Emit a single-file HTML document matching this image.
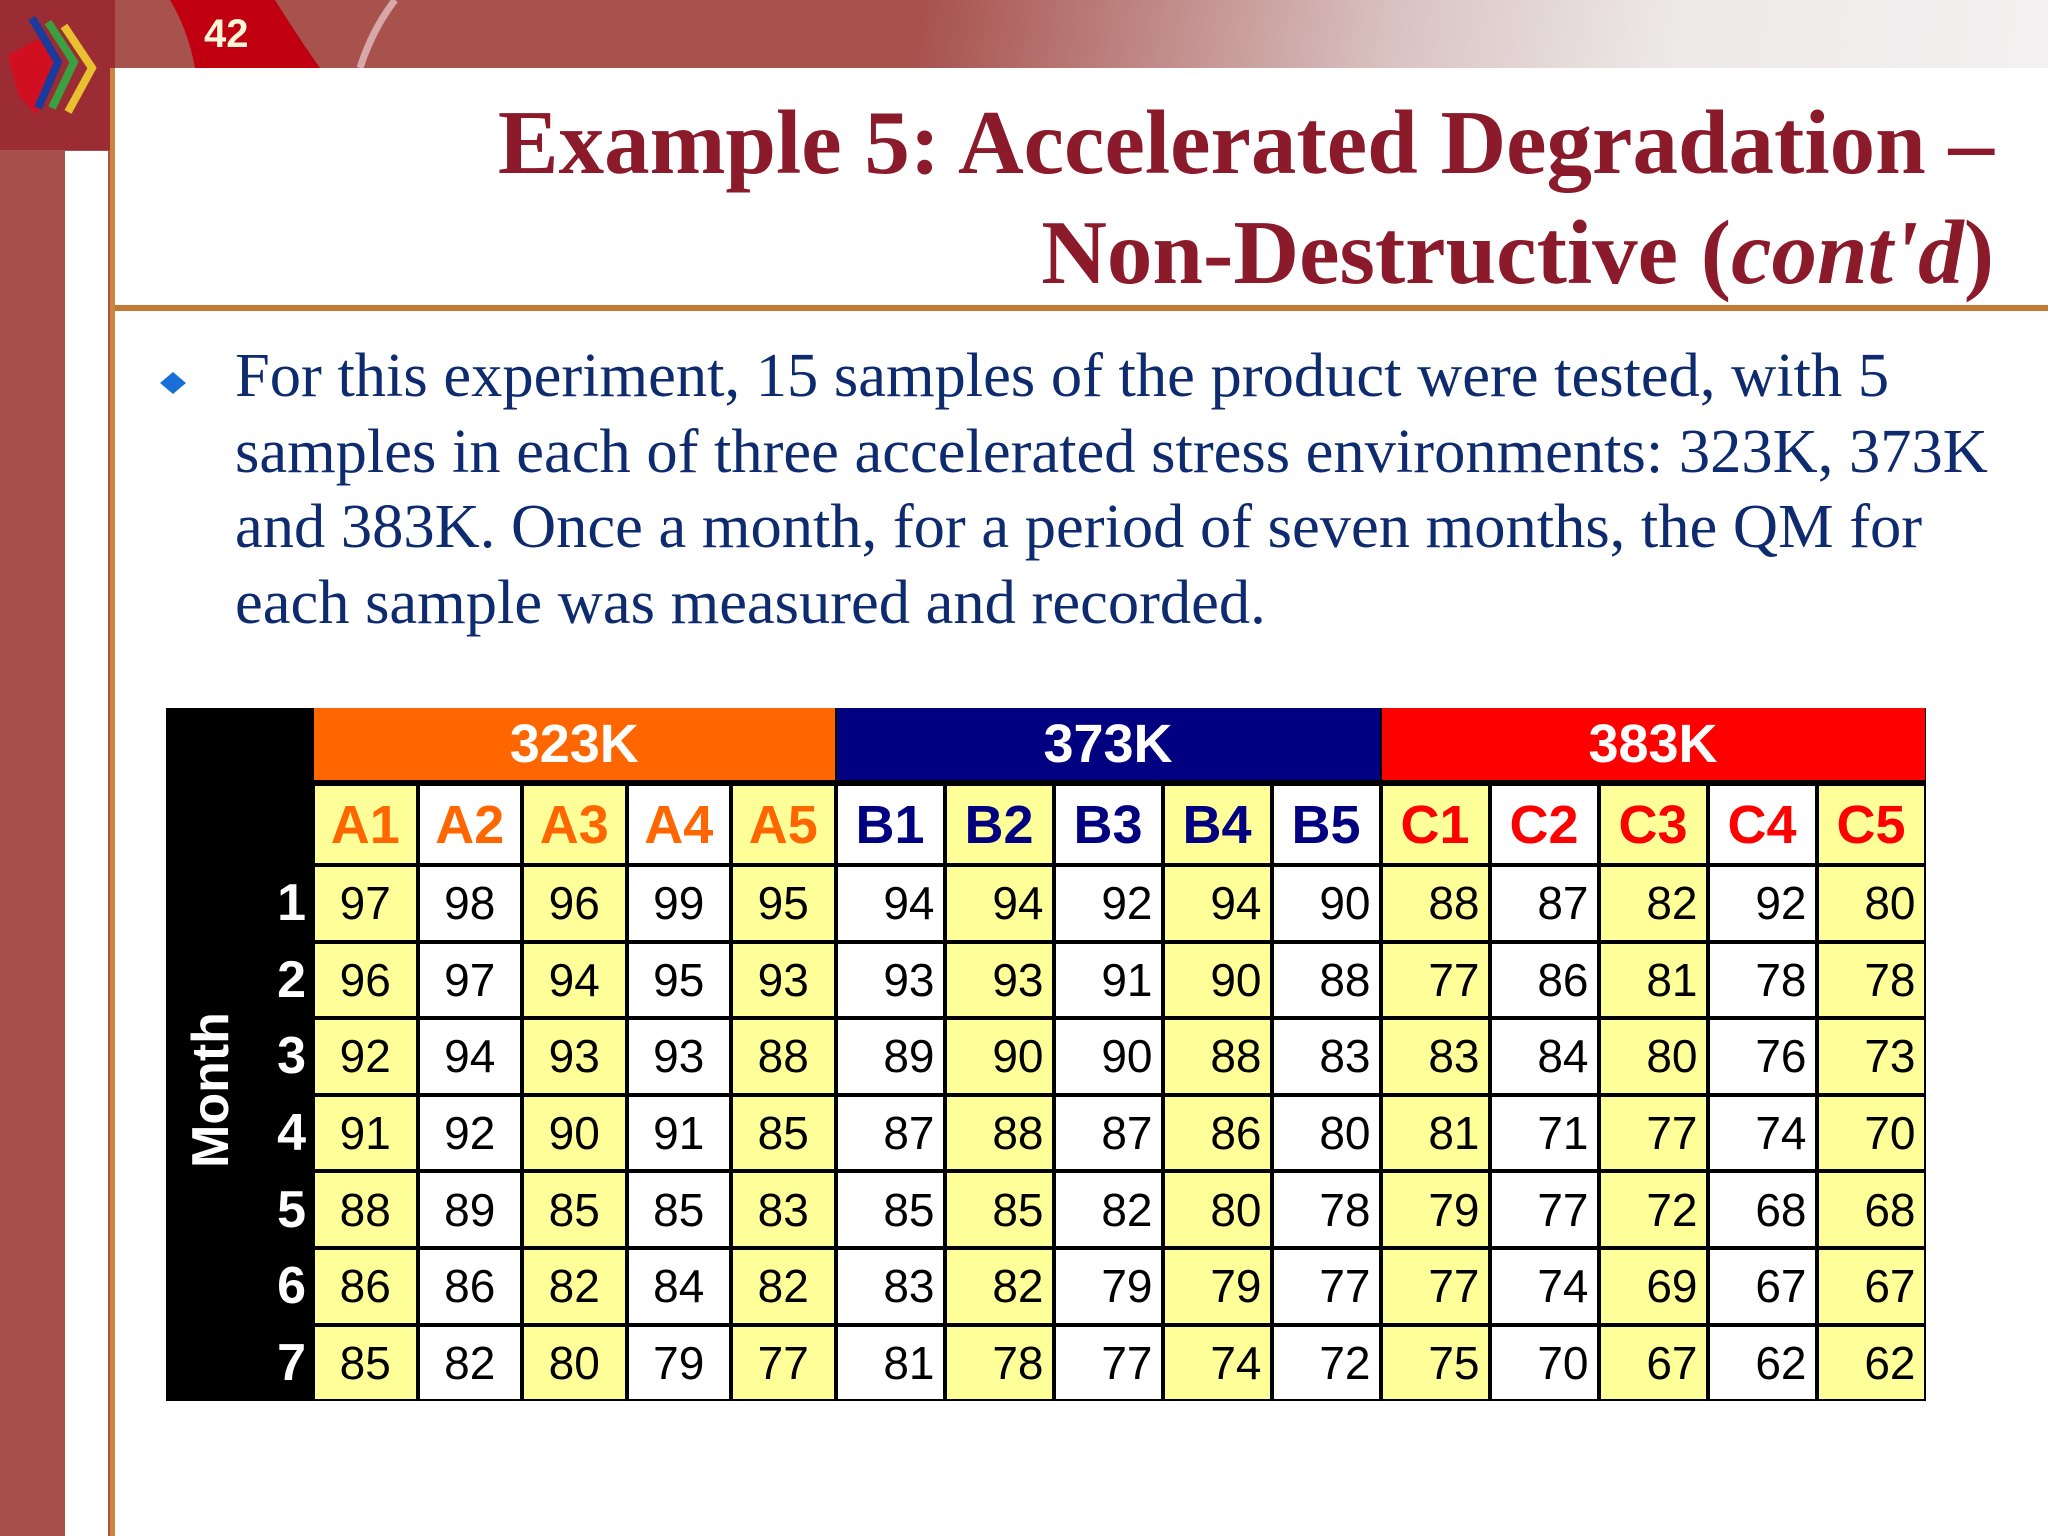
<!DOCTYPE html>
<html><head><meta charset="utf-8">
<style>
html,body{margin:0;padding:0}
body{width:2048px;height:1536px;position:relative;overflow:hidden;background:#fff;font-family:"Liberation Serif",serif}
.abs{position:absolute}
#tbl{position:absolute;left:166px;top:708px;width:1760px;height:693px;background:#000}
.cell{position:absolute;box-sizing:border-box;font-family:"Liberation Sans",sans-serif;display:flex;align-items:center}
</style></head>
<body>
<div class="abs" style="left:0;top:0;width:2048px;height:68px;background:linear-gradient(100deg,#a8524e 0%,#a8524e 45%,#d9c3c2 68%,#eeeaea 82%,#f2f0f0 100%)"></div>
<div class="abs" style="left:0;top:0;width:115px;height:1536px;background:#a8504c"></div>
<div class="abs" style="left:0;top:0;width:115px;height:150px;background:#9b2c33"></div>
<div class="abs" style="left:65px;top:151px;width:43px;height:1385px;background:#fff"></div>
<div class="abs" style="left:110px;top:68px;width:5px;height:1468px;background:#c8873a"></div>
<svg class="abs" style="left:0;top:0" width="115" height="120">
<path d="M8,55 L40,38 L58,70 L36,115 L18,95 Z" fill="#d01020"/>
<path d="M32,18 L58,62 L38,108" stroke="#1a3a9c" stroke-width="8" fill="none"/>
<path d="M48,22 L74,62 L52,108" stroke="#3aa040" stroke-width="8" fill="none"/>
<path d="M64,26 L92,68 L68,112" stroke="#e8c030" stroke-width="8" fill="none"/>
</svg>
<svg class="abs" style="left:150px;top:0" width="250" height="68">
<path d="M20,0 L125,0 Q150,40 170,68 L45,68 Q38,30 20,0 Z" fill="#c00010"/>
<path d="M245,0 Q222,30 210,68" stroke="#d8a8a8" stroke-width="7" fill="none"/>
</svg>
<div class="abs" style="left:204px;top:12px;font:bold 40px 'Liberation Sans',sans-serif;color:#fff6d8">42</div>

<div class="abs" style="right:54px;top:88px;text-align:right;white-space:nowrap;font-weight:bold;font-size:91px;line-height:110px;color:#8b1a2b">Example 5: Accelerated Degradation –<br>Non-Destructive (<i>cont'd</i>)</div>
<div class="abs" style="left:115px;top:305px;width:1933px;height:6px;background:#c07a32"></div>

<svg class="abs" style="left:158px;top:370px" width="30" height="26"><path d="M15,2 L28,13 L15,24 L2,13 Z" fill="#1a6ed8"/></svg>
<div class="abs" style="left:235px;top:338px;width:1780px;font-size:62.5px;line-height:75.5px;color:#0d2b6e">For this experiment, 15 samples of the product were tested, with 5 samples in each of three accelerated stress environments: 323K, 373K and 383K. Once a month, for a period of seven months, the QM for each sample was measured and recorded.</div>

<div id="tbl"></div>
<script>
const groups=["323K","373K","383K"];
const sampleLabels=["A1","A2","A3","A4","A5","B1","B2","B3","B4","B5","C1","C2","C3","C4","C5"];
const months=["1","2","3","4","5","6","7"];
const row1=[97,98,96,99,95,94,94,92,94,90,88,87,82,92,80];
const row2=[96,97,94,95,93,93,93,91,90,88,77,86,81,78,78];
const row3=[92,94,93,93,88,89,90,90,88,83,83,84,80,76,73];
const row4=[91,92,90,91,85,87,88,87,86,80,81,71,77,74,70];
const row5=[88,89,85,85,83,85,85,82,80,78,79,77,72,68,68];
const row6=[86,86,82,84,82,83,82,79,79,77,77,74,69,67,67];
const row7=[85,82,80,79,77,81,78,77,74,72,75,70,67,62,62];
const rows=[row1,row2,row3,row4,row5,row6,row7];

const T=document.getElementById('tbl');
const groupColors=["#ff6600","#000080","#ff0000"];
const left0=147, hdrH=76, subH=81, rowH=76.6, subTop=76, dataTop=157;
const colW=i=>i<5?104.5:109;
const colX=i=>{let x=left0;for(let k=0;k<i;k++)x+=colW(k);return x;};
const yellow=[1,0,1,0,1,0,1,0,1,0,1,0,1,0,1];
function mk(x,y,w,h,bg,txt,color,font,just){
  const d=document.createElement('div');d.className='cell';
  d.style.cssText+=`left:${x}px;top:${y}px;width:${w}px;height:${h}px;background:${bg};color:${color};font:${font};justify-content:${just}`;
  d.textContent=txt;T.appendChild(d);return d;
}
const monthLbl=document.createElement('div');


monthLbl.style.cssText='position:absolute;left:-15px;top:370px;width:120px;transform:rotate(-90deg);transform-origin:center;color:#fff;font:bold 52px "Liberation Sans",sans-serif;text-align:center';
monthLbl.textContent='Month';T.appendChild(monthLbl);
groups.forEach((g,gi)=>{
  const x=colX(gi*5),w=colX(gi*5+5)-x;
  const d=mk(x+1,0,w-2,hdrH-4,groupColors[gi],g,'#fff','bold 54px "Liberation Sans",sans-serif','center');
  
  
});
sampleLabels.forEach((s,i)=>{
  const d=mk(colX(i)+2,subTop+2,colW(i)-4,subH-4,yellow[i]?'#ffff99':'#fff',s,groupColors[Math.floor(i/5)],'bold 54px "Liberation Sans",sans-serif','center');
  
  
});
months.forEach((m,r)=>{
  const y=dataTop+r*rowH;
  const l=mk(40,y,100,rowH,'transparent',m,'#fff','bold 52px "Liberation Sans",sans-serif','flex-end');
  
  
  rows[r].forEach((v,i)=>{
    const c=mk(colX(i)+2,y+2,colW(i)-4,rowH-4,yellow[i]?'#ffff99':'#fff',String(v),'#000','46px "Liberation Sans",sans-serif',i<5?'center':'flex-end');
    if(i>=5)c.style.paddingRight='8px';
    
    
  });
});
</script>
</body></html>
